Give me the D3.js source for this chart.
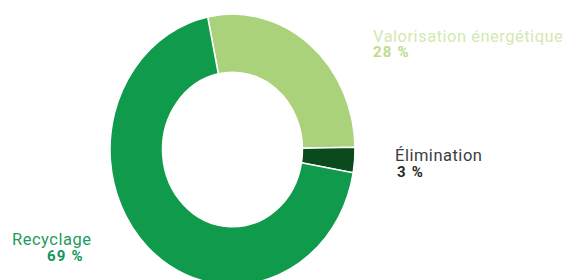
<!DOCTYPE html>
<html><head><meta charset="utf-8">
<script src="https://cdn.jsdelivr.net/npm/d3@7"></script>
<style>html,body{margin:0;padding:0;background:#fff;overflow:hidden}</style>
</head><body><svg id="chart" width="569" height="280"></svg>
<script>
const categories = ["Valorisation énergétique", "Élimination", "Recyclage"];
const values = [28, 3, 69];
const valueLabels = ["28 %", "3 %", "69 %"];
const sliceColors = ["#aad27a", "#0a4a1d", "#109a4b"];

const svg = d3.select("#chart");
const cx = 232.5, cy = 149.5, rOuter = 122.5, rInner = 70, yStretch = 1.105;
const startAngle = -11.7 * Math.PI / 180;

const pie = d3.pie().sort(null).value(d => d.value)
  .startAngle(startAngle).endAngle(startAngle + 2 * Math.PI);
const arc = d3.arc().innerRadius(rInner).outerRadius(rOuter);
const data = categories.map((c, i) => ({cat: c, value: values[i], label: valueLabels[i], color: sliceColors[i]}));

const g = svg.append("g").attr("transform", `translate(${cx},${cy}) scale(1,${yStretch})`);
g.selectAll("path").data(pie(data)).join("path")
  .attr("d", arc)
  .attr("fill", d => d.data.color)
  .attr("stroke", "#fff")
  .attr("stroke-width", 1.5)
  .attr("vector-effect", "non-scaling-stroke");

const labelPos = [
  {x: 373, y: 42, dy: 15, vx: 373, nameColor: "#d3e8b2", valColor: "#bcdc8c"},
  {x: 395, y: 161, dy: 16, vx: 397, nameColor: "#3d3d3d", valColor: "#1f2b22"},
  {x: 12, y: 245, dy: 16, vx: 47, nameColor: "#1f9a5f", valColor: "#13955a"}
];
const lab = svg.append("g").attr("font-family", "Roboto, 'Open Sans', sans-serif");
data.forEach((d, i) => {
  const p = labelPos[i];
  lab.append("text").attr("x", p.x).attr("y", p.y)
    .attr("font-size", 16.5).attr("letter-spacing", 0.5).attr("fill", p.nameColor).text(d.cat);
  lab.append("text").attr("x", p.vx).attr("y", p.y + p.dy)
    .attr("font-size", 15).attr("letter-spacing", 1.2).attr("font-weight", "bold").attr("fill", p.valColor).text(d.label);
});
</script></body></html>
